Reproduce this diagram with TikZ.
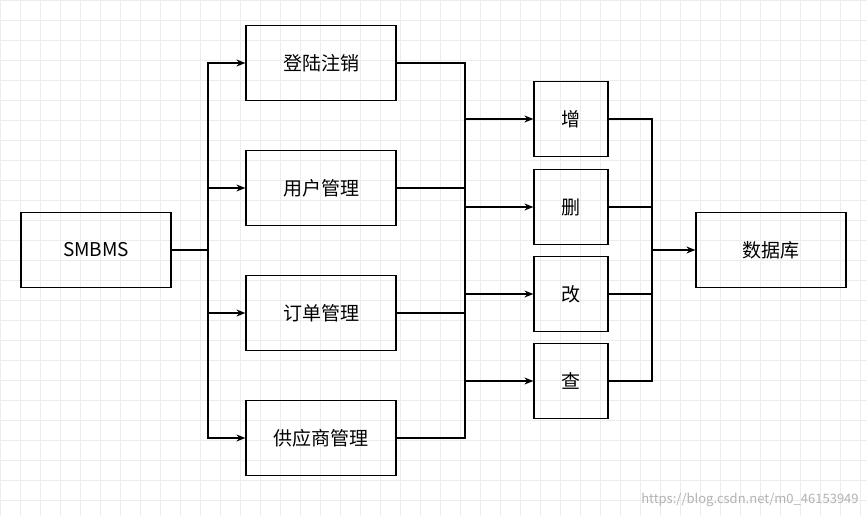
\documentclass[tikz,border=0pt]{standalone}
\usepackage{fontspec}
\usetikzlibrary{arrows.meta}
\setmainfont{Noto Sans CJK SC}
\begin{document}
\begin{tikzpicture}[x=1pt,y=-1pt,>={Stealth[length=9pt,width=7pt]},line width=1.2pt,
  box/.style={draw,minimum width=150pt,minimum height=75pt,font=\fontsize{19}{22}\selectfont},
  op/.style={box,minimum width=74pt}]
\useasboundingbox (0,0) rectangle (867,516);
\fill[white] (0,0) rectangle (867,516);
\foreach \i in {0,20,...,860} \draw[gray!15,thin] (\i,0) -- (\i,516);
\foreach \i in {0,20,...,510} \draw[gray!15,thin] (0,\i) -- (867,\i);

\node[box] (s) at (96,250) {SMBMS};
\node[box] (m1) at (321,63) {登陆注销};
\node[box] (m2) at (321,188) {用户管理};
\node[box] (m3) at (321,313) {订单管理};
\node[box] (m4) at (321,438) {供应商管理};
\node[op] (c1) at (571,119) {增};
\node[op] (c2) at (571,207) {删};
\node[op] (c3) at (571,294) {改};
\node[op] (c4) at (571,381) {查};
\node[box] (db) at (771,250) {数据库};

\coordinate (j1) at (208,250);
\coordinate (j2) at (465,250);
\coordinate (j3) at (652,250);

% SMBMS to modules
\foreach \m in {m1,m2,m3,m4}
  \draw[->] (s.east) -- (j1) |- (\m.west);
% modules to operations
\foreach \m in {m1,m2,m3,m4}
  \draw (\m.east) -| (j2);
\foreach \c in {c1,c2,c3,c4}
  \draw[->] (j2) |- (\c.west);
% operations to database
\foreach \c in {c1,c2,c3,c4}
  \draw (\c.east) -| (j3);
\draw[->] (j3) -- (db.west);

\node[gray!60,line width=0pt,font=\fontsize{13}{15}\selectfont,anchor=south east] (wm) at (862,510) {https://blog.csdn.net/m0\_46153949};
\end{tikzpicture}
\end{document}
